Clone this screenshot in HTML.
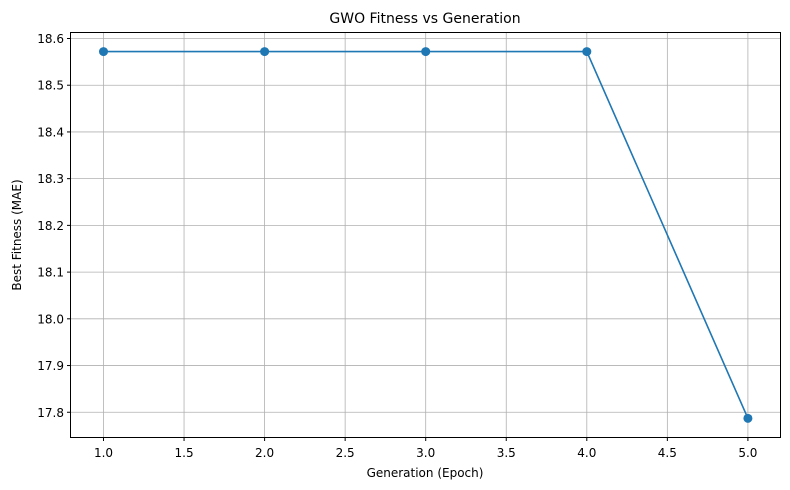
<!DOCTYPE html>
<html><head><meta charset="utf-8"><style>
html,body{margin:0;padding:0;background:#fff;}
svg{display:block;font-family:"DejaVu Sans","Liberation Sans",sans-serif;}
</style></head><body>
<svg id="chart" width="790" height="490">
<text x="425" y="23" text-anchor="middle" font-size="14">GWO Fitness vs Generation</text>
<text x="425" y="477" text-anchor="middle" font-size="12">Generation (Epoch)</text>
<text x="21" y="235" text-anchor="middle" font-size="12" transform="rotate(-90 21 235)">Best Fitness (MAE)</text>
<g id="grid"></g><g id="ticks"></g><g id="series"></g>
<rect x="70.5" y="32.5" width="710" height="405" fill="none" stroke="#000" stroke-width="1"/>
</svg>
<script>
const generations = [1, 2, 3, 4, 5];
const fitness = [18.572, 18.572, 18.572, 18.572, 17.787];
const xTicks = [1.0, 1.5, 2.0, 2.5, 3.0, 3.5, 4.0, 4.5, 5.0];
const yTicks = [17.8, 17.9, 18.0, 18.1, 18.2, 18.3, 18.4, 18.5, 18.6];
const X = v => 103.5 + (v - 1) * 161.1;
const Y = v => 38.5 + (18.6 - v) * 467.2;
const NS = "http://www.w3.org/2000/svg";
const grid = document.getElementById('grid'), ticks = document.getElementById('ticks'), series = document.getElementById('series');
function mk(tag, attrs, parent){const e=document.createElementNS(NS,tag);for(const k in attrs)e.setAttribute(k,attrs[k]);parent.appendChild(e);return e;}
xTicks.forEach(t=>{
  const x=X(t);
  const g=mk('line',{x1:x,x2:x,y1:32.5,y2:437.5,stroke:'#b0b0b0','stroke-width':0.8},grid);
  
  
  const tk=mk('line',{x1:x,x2:x,y1:437.5,y2:441,stroke:'#000'},ticks);
  
  
  const tx=mk('text',{x:x,y:457,'text-anchor':'middle','font-size':12},ticks);
  tx.textContent=t.toFixed(1);
  
  
});
yTicks.forEach(t=>{
  const y=Y(t);
  const g=mk('line',{x1:70.5,x2:780.5,y1:y,y2:y,stroke:'#b0b0b0','stroke-width':0.8},grid);
  
  
  const tk=mk('line',{x1:67,x2:70.5,y1:y,y2:y,stroke:'#000'},ticks);
  
  
  const tx=mk('text',{x:64,y:y+4.5,'text-anchor':'end','font-size':12},ticks);
  tx.textContent=t.toFixed(1);
  
  
});
const pts=generations.map((g,i)=>X(g)+','+Y(fitness[i])).join(' ');
const line=mk('polyline',{points:pts,fill:'none',stroke:'#1f77b4','stroke-width':1.6},series);


generations.forEach((g,i)=>{
  const c=mk('circle',{cx:X(g),cy:Y(fitness[i]),r:4.5,fill:'#1f77b4'},series);
  
  
});
</script>
</body></html>
